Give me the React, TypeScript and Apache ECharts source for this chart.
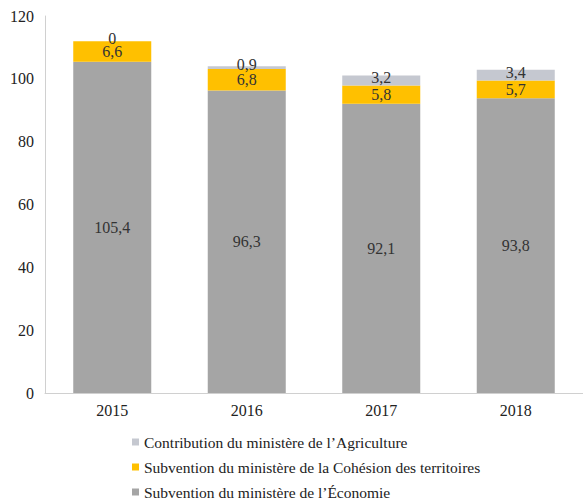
import React, { useEffect, useRef } from "react";
import * as echarts from "echarts";

const categories = ["2015", "2016", "2017", "2018"];
const economie = [105.4, 96.3, 92.1, 93.8];
const cohesion = [6.6, 6.8, 5.8, 5.7];
const agriculture = [0, 0.9, 3.2, 3.4];
const yTicks = { min: 0, max: 120, interval: 20 };

const names = {
  eco: "Subvention du ministère de l\u2019Économie",
  coh: "Subvention du ministère de la Cohésion des territoires",
  agr: "Contribution du ministère de l\u2019Agriculture",
};

const FONT = "Liberation Serif";

const fmt = (p: any) => String(p.value).replace(".", ",");

export default function App() {
  const ref = useRef<HTMLDivElement>(null);
  useEffect(() => {
    if (!ref.current) return;
    const chart = echarts.init(ref.current, null, { renderer: "svg" });
    const label = {
      show: true,
      position: "inside",
      formatter: fmt,
      fontFamily: FONT,
      fontSize: 16,
      color: "#333",
    };
    const legendBase = {
      orient: "vertical",
      left: 132,
      padding: 0,
      itemWidth: 7,
      itemHeight: 7,
      itemGap: 4,
      icon: "rect",
      textStyle: { fontFamily: FONT, fontSize: 15.5, color: "#222" },
    };
    chart.setOption({
      animation: false,
      backgroundColor: "#ffffff",
      grid: { left: 45, top: 16, width: 540, bottom: 108, containLabel: false },
      legend: [
        { ...legendBase, top: 434, data: [names.agr] },
        { ...legendBase, top: 459, data: [names.coh] },
        { ...legendBase, top: 484, data: [names.eco] },
      ],
      xAxis: {
        type: "category",
        data: categories,
        axisLine: { show: true, lineStyle: { color: "#d0d0d0" } },
        axisTick: { show: false },
        axisLabel: { fontFamily: FONT, fontSize: 16, color: "#222", margin: 9 },
      },
      yAxis: {
        type: "value",
        min: yTicks.min,
        max: yTicks.max,
        interval: yTicks.interval,
        axisLine: { show: true, lineStyle: { color: "#d0d0d0" } },
        axisTick: { show: false },
        splitLine: { show: false },
        axisLabel: { fontFamily: FONT, fontSize: 16, color: "#222", margin: 11 },
      },
      series: [
        {
          name: names.eco,
          type: "bar",
          stack: "t",
          data: economie,
          barWidth: "58%",
          itemStyle: { color: "#A5A5A5" },
          label,
        },
        {
          name: names.coh,
          type: "bar",
          stack: "t",
          data: cohesion,
          itemStyle: { color: "#FFC000" },
          label,
        },
        {
          name: names.agr,
          type: "bar",
          stack: "t",
          data: agriculture,
          itemStyle: { color: "#C5C8D0" },
          label: { ...label, offset: [0, -3] },
        },
      ],
    });
    return () => chart.dispose();
  }, []);
  return (
    <div
      ref={ref}
      style={{ position: "fixed", left: 0, top: 0, width: 583, height: 501 }}
    />
  );
}
